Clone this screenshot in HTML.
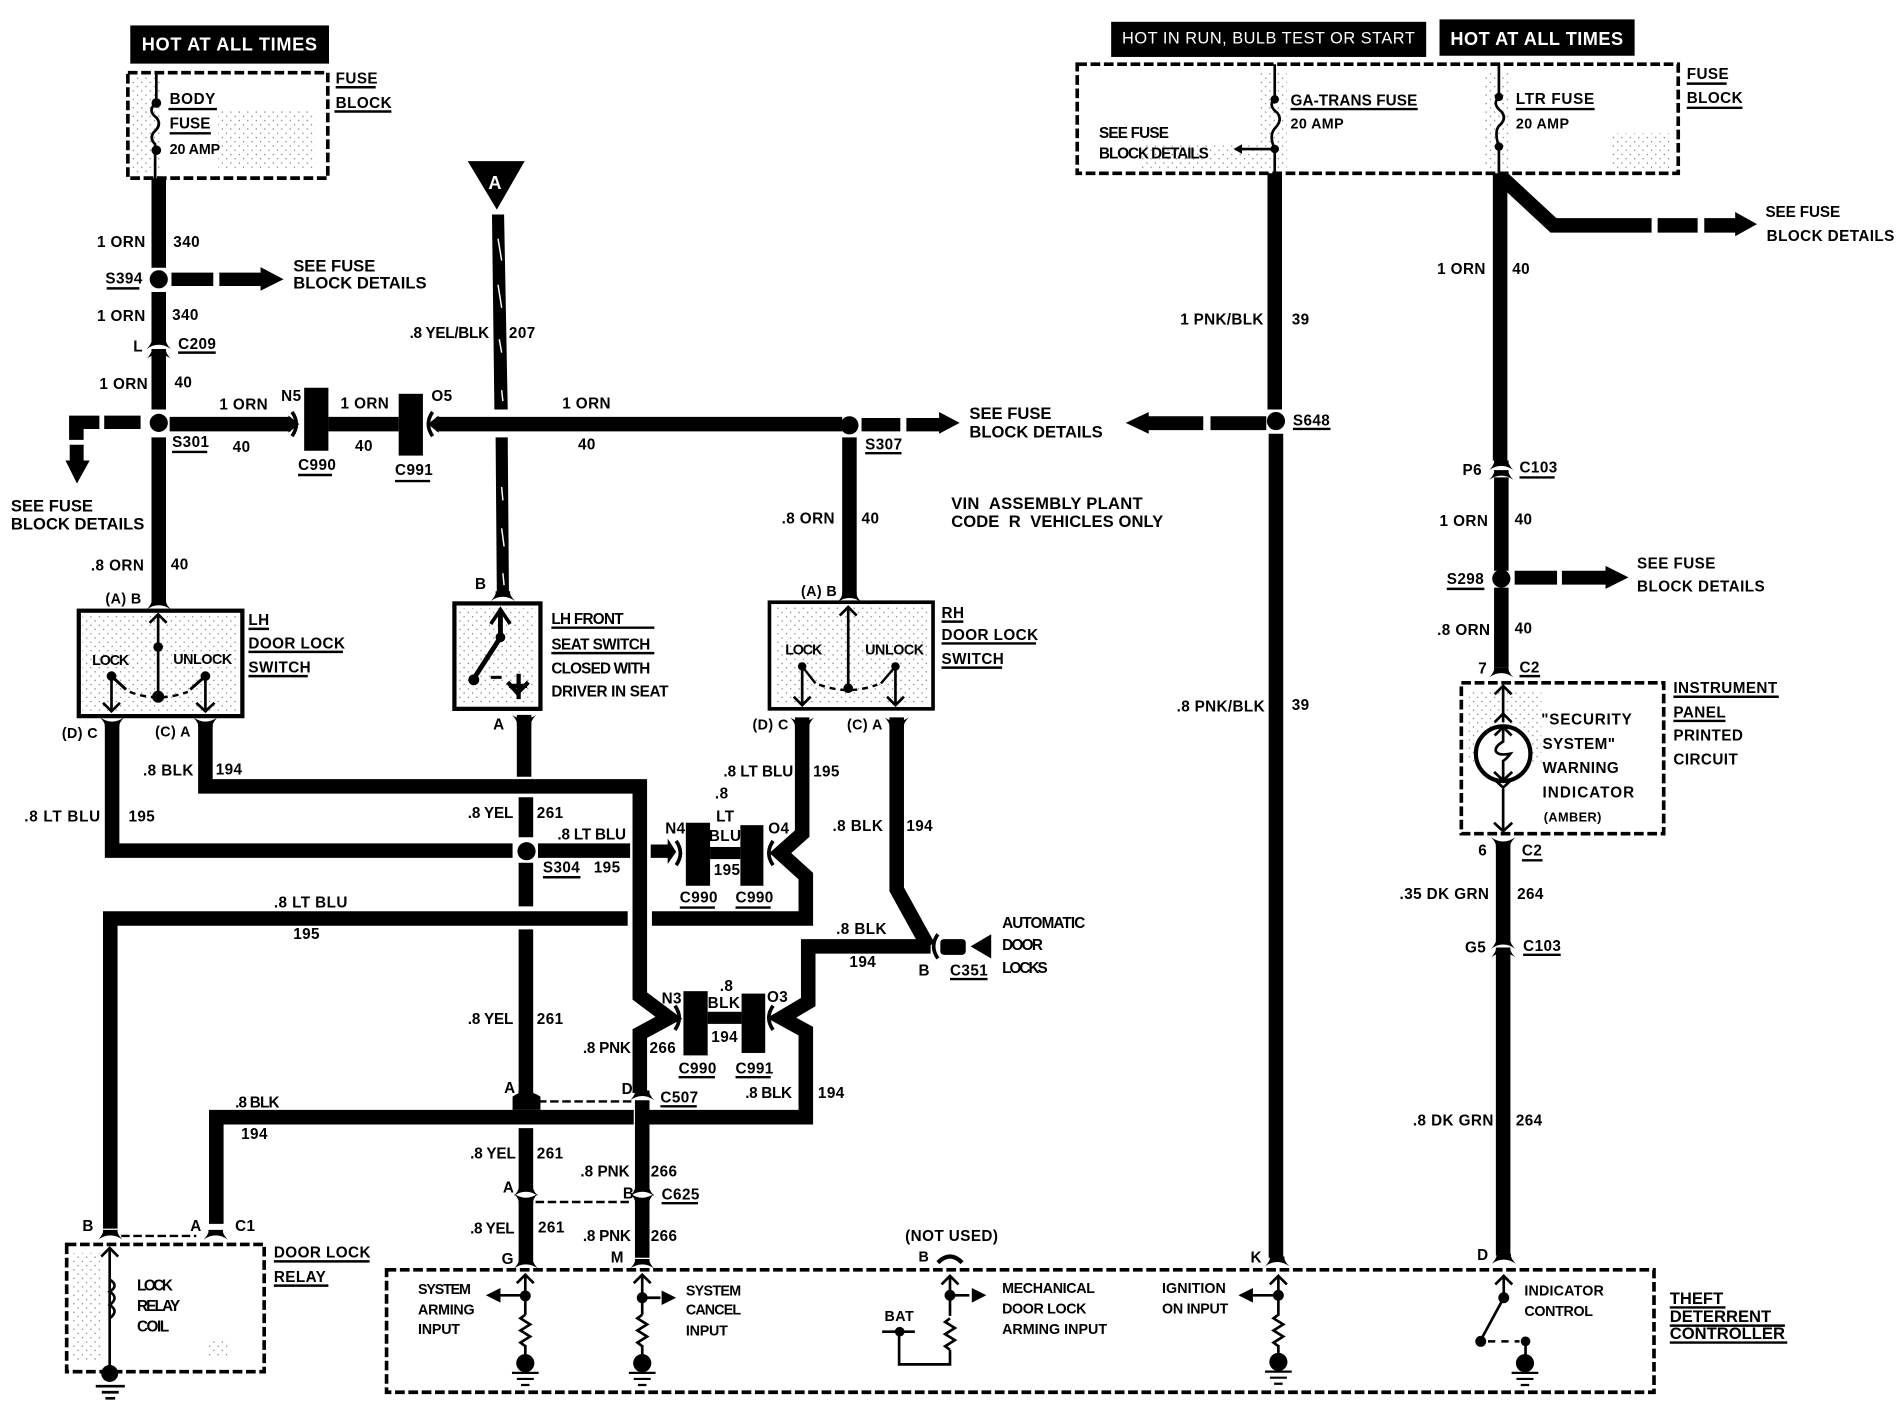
<!DOCTYPE html>
<html><head><meta charset="utf-8"><style>
html,body{margin:0;padding:0;background:#fff}
svg{display:block}
text{font-family:"Liberation Sans",sans-serif;font-weight:700;font-size:12.6px;letter-spacing:.35px;fill:#000;white-space:pre}
.s{font-size:11.8px}.b{font-size:13.7px;letter-spacing:0}.w{fill:#fff;font-size:15px;letter-spacing:.4px}
.r{font-weight:400}
.t{fill:none;stroke:#000;stroke-width:12;stroke-linejoin:miter}
.u{fill:none;stroke:#000;stroke-width:2}
.d{fill:none;stroke:#000;stroke-width:3;stroke-dasharray:8 3}
.l{fill:none;stroke:#000;stroke-width:2.2}
</style></head><body>
<svg xmlns="http://www.w3.org/2000/svg" width="1900" height="1408" viewBox="0 0 1568 1162">
<defs>
<pattern id="p" width="7" height="7" patternUnits="userSpaceOnUse"><rect x="1" y="1" width="1" height="1" fill="#000"/><rect x="4.5" y="4.5" width="1" height="1" fill="#000"/></pattern>
<path id="cd" d="M-6 -4H6V-2Q7 1 10 4Q0 -3 -10 4Q-7 1 -6 -2Z"/>
<path id="cu" d="M-6 4H6V2Q7 -1 10 -4Q0 3 -10 -4Q-7 -1 -6 2Z"/>
<path id="ch" d="M-7 7L0 0L7 7" fill="none" stroke="#000" stroke-width="2.2"/>
<path id="rs" d="M0 0L-4 3L4 8L-4 13L4 18L-4 23L0 26" fill="none" stroke="#000" stroke-width="2.2"/>
<g id="gn"><circle cx="0" cy="0" r="7.5" fill="#000"/><path d="M-11 8H11M-7 13H7M-3.5 18H3.5" fill="none" stroke="#000" stroke-width="1.8"/></g>
<path id="cl" d="M-3 -10Q4 0 -3 10" fill="none" stroke="#000" stroke-width="3"/>
<path id="cr" d="M3 -10Q-4 0 3 10" fill="none" stroke="#000" stroke-width="3"/>
</defs>
<rect width="1568" height="1162" fill="#fff"/>

<!-- stipple -->
<g fill="url(#p)" opacity=".55">
<rect x="68" y="507" width="128" height="80"/><rect x="378" y="502" width="64" height="80"/><rect x="639" y="501" width="127" height="80"/>
<rect x="180" y="90" width="80" height="50"/><rect x="108" y="64" width="25" height="80"/>
<rect x="1040" y="60" width="22" height="80"/><rect x="1225" y="60" width="22" height="80"/><rect x="940" y="120" width="100" height="20"/><rect x="1330" y="110" width="50" height="30"/>
<rect x="1212" y="570" width="60" height="60"/><rect x="60" y="1034" width="25" height="90"/><rect x="170" y="1105" width="20" height="15"/>
</g>

<!-- top black boxes -->
<rect x="107.500" y="21" width="164" height="31.500" fill="#000"/><text class="w" x="117" y="41.500" textLength="145">HOT AT ALL TIMES</text>
<rect x="917" y="18" width="260" height="29" fill="#000"/><text class="w r" style="font-size:13.500px" x="926" y="36" textLength="242">HOT IN RUN, BULB TEST OR START</text>
<rect x="1188" y="16" width="161" height="30" fill="#000"/><text class="w" x="1197" y="37">HOT AT ALL TIMES</text>

<!-- boxes -->
<rect x="105.500" y="60" width="165" height="87" class="d"/>
<rect x="889" y="53" width="496" height="90" class="d"/>
<rect x="1206" y="563.500" width="167" height="124.500" class="d"/>
<rect x="55" y="1027" width="163" height="105" class="d"/>
<rect x="319" y="1048" width="1046" height="101" class="d"/>
<rect x="65" y="504" width="135" height="87" fill="none" stroke="#000" stroke-width="3.500"/>
<rect x="375" y="498" width="71" height="87" fill="none" stroke="#000" stroke-width="3.500"/>
<rect x="635" y="497" width="135" height="88" fill="none" stroke="#000" stroke-width="3"/>

<!-- main wires upper left -->
<path class="t" d="M131 147V221M131 241V282M131 290V338M131 361V497"/>
<circle cx="131" cy="230.500" r="7.500"/><circle cx="131" cy="349" r="7.500"/>
<use href="#cd" x="131" y="284"/><use href="#cd" x="131" y="292"/><use href="#cd" x="131" y="499"/>
<path d="M141.500 225H176V236H141.500ZM181 225H215V220.500L234 230.500L215 240V236H181Z"/>
<path d="M86 343H116V354H86ZM57 343H82V354H69V363H57ZM57.500 367H69V380H74L63.500 399L54 380H57.500Z"/>
<path class="t" d="M140 350H240M271 350H329M360 350H695"/>
<path d="M238 343L247 350L238 357Z"/><path d="M362 343L353 350L362 357Z"/>
<use href="#cl" x="244" y="350"/><use href="#cr" x="354" y="350"/>
<rect x="251" y="320" width="20" height="52"/><rect x="329" y="325" width="20" height="51"/>
<circle cx="701" cy="351" r="7.500"/>
<path d="M711 345H743V356H711ZM748 345H775V340L792 349L775 358V356H748Z"/>
<path class="t" d="M701 361V491"/><use href="#cd" x="701" y="493"/>

<!-- A wire -->
<path d="M386 133H433L410 173Z"/><text x="403" y="156" style="fill:#fff;font-size:15px">A</text>
<path d="M406 177L416 177L419 338L408 338Z"/><path d="M409 361L419 361L420 490L410 490Z"/>
<path d="M411 197L414 215M411 235L414 254M412 280L414 291M414 322L415 331M414 402L415 413M414 436L416 451M415 473L416 483" stroke="#fff" stroke-width="1.200" fill="none"/>
<use href="#cd" x="415" y="492"/>

<!-- LH switch -->
<g class="l"><path d="M130.500 507V575"/><path d="M92 558L104 569M169.500 558L157 569" stroke-width="2.500"/><path d="M92 558V587M169.500 558V587"/><path d="M107 571Q130 580 155 571" stroke-dasharray="5 4" stroke-width="2"/></g>
<use href="#ch" x="130.500" y="507"/><circle cx="130.500" cy="534" r="4"/><circle cx="130.500" cy="575" r="5"/><circle cx="92" cy="558" r="4"/><circle cx="169.500" cy="558" r="4"/>
<path class="l" d="M85 580L92 587L99 580M162 580L169.500 587L177 580"/>
<!-- RH switch -->
<g class="l"><path d="M700 501V568"/><path d="M662 550L673 564M739 550L727 564" stroke-width="2"/><path d="M662 550V582M739 550V582"/><path d="M676 565Q700 574 724 565" stroke-dasharray="5 4" stroke-width="2"/></g>
<use href="#ch" x="700" y="501"/><circle cx="700" cy="568" r="4"/><circle cx="662" cy="550" r="3.500"/><circle cx="739" cy="550" r="3.500"/>
<path class="l" d="M655 575L662 582L669 575M732 575L739 582L746 575"/>
<!-- seat switch -->
<path d="M413 505V526L391 560" fill="none" stroke="#000" stroke-width="4"/><path d="M405 515L413 503L421 515" fill="none" stroke="#000" stroke-width="3"/>
<circle cx="413" cy="526" r="4"/><circle cx="391" cy="561" r="4.500"/><path d="M405 559H414" stroke="#000" stroke-width="2.500"/>
<path d="M419 563L427 572L436 563M428 556V577M420 566H435" fill="none" stroke="#000" stroke-width="3.500"/>

<!-- lower left wires -->
<path class="t" d="M92.500 597V702H423"/><use href="#cu" x="92.500" y="596"/>
<path class="t" d="M169.500 597V649H528V822L552 840L528 853V902"/><use href="#cu" x="169.500" y="596"/>
<path class="t" d="M444 702H520"/><path d="M537 697H551V692L558 703L551 713V708H537Z"/>
<path class="t" d="M432.500 590V641"/><use href="#cu" x="432.500" y="594"/>
<path class="t" d="M434 658V691M434 712V748M434 767V902M434 931V980M434 991V1040"/>
<circle cx="434.500" cy="702.500" r="7.500"/>
<path class="t" d="M518 758H91V1014"/>
<path class="t" d="M662 592V688L644 704L665 723V758H538"/><use href="#cu" x="662" y="596"/>
<rect x="566" y="679" width="20" height="52"/><rect x="611" y="681" width="19" height="50"/><rect x="586" y="699" width="25" height="10"/>
<use href="#cl" x="561" y="704"/><use href="#cr" x="635" y="704"/>
<path class="t" d="M740 592V734L766 781"/><use href="#cu" x="740" y="596"/>
<path class="t" d="M768 781H667V827L645 840L665 851V922H536"/>
<rect x="564" y="818" width="20" height="53"/><rect x="612" y="820" width="19.500" height="49"/><rect x="584" y="835" width="28" height="10"/>
<use href="#cl" x="560" y="840"/><use href="#cr" x="635" y="840"/>
<use href="#cr" x="771" y="781"/><rect x="776" y="775" width="21" height="13" rx="3"/><path d="M801 781L818 771V791Z"/>
<path class="t" d="M523 922H178.500V1010"/>
<path d="M423 916H446V905Q434 897 423 905Z"/>
<path class="t" d="M530 908V980M530 991V1038"/>
<use href="#cd" x="530" y="904"/><use href="#cd" x="434" y="904"/><use href="#cd" x="434" y="983"/><use href="#cu" x="434" y="989"/><use href="#cd" x="530" y="983"/><use href="#cu" x="530" y="989"/>
<use href="#cd" x="434" y="1043"/><use href="#cd" x="530" y="1043"/>
<use href="#cd" x="91" y="1019"/><use href="#cd" x="178" y="1019"/>
<path d="M444 909H521M442 992H521M100 1020H162" fill="none" stroke="#000" stroke-width="2" stroke-dasharray="7 3"/>

<!-- relay internals -->
<path class="l" d="M90.500 1030V1133"/><use href="#ch" x="90.500" y="1030"/>
<path class="l" d="M90.500 1056q8 5 0 10q8 5 0 11q8 5 0 11"/><circle cx="90.500" cy="1133.500" r="7"/>
<path class="l" d="M79 1144H103M84 1149H98M87 1154H95"/>

<!-- controller internals -->
<g class="l">
<path d="M433.500 1053V1085M433.500 1110V1120M433.500 1069H410"/><path d="M530 1053V1085M530 1110V1120M530 1071H545"/>
<path d="M784 1054V1086M784 1114V1126H742V1099M728 1099H755M784 1069H800"/>
<path d="M1055 1054V1086M1055 1110V1118M1055 1069H1034"/>
<path d="M1241 1053V1071L1222 1106"/><path d="M1259 1107V1120"/>
</g>
<use href="#ch" x="433.500" y="1052"/><use href="#ch" x="530" y="1052"/><use href="#ch" x="784" y="1053"/><use href="#ch" x="1055" y="1053"/><use href="#ch" x="1241" y="1053"/>
<circle cx="433.500" cy="1069.500" r="4.500"/><circle cx="530" cy="1071" r="4.500"/><circle cx="784" cy="1069" r="4.500"/><circle cx="1055" cy="1069" r="4.500"/><circle cx="1241" cy="1071" r="4.500"/><circle cx="742.500" cy="1099" r="4"/><circle cx="1222" cy="1107" r="4.500"/><circle cx="1259" cy="1107" r="4"/>
<path d="M401 1069L413 1063V1075ZM558 1071L546 1065V1077ZM814 1069L802 1063V1075ZM1022 1069L1034 1063V1075Z"/>
<use href="#rs" x="433.500" y="1085"/><use href="#rs" x="530" y="1085"/><use href="#rs" x="784" y="1088"/><use href="#rs" x="1055" y="1085"/>
<use href="#gn" x="433.500" y="1125"/><use href="#gn" x="530" y="1125"/><use href="#gn" x="1055" y="1124"/><use href="#gn" x="1258.500" y="1125"/>
<path d="M1228 1107H1254" fill="none" stroke="#000" stroke-width="2" stroke-dasharray="6 5"/>
<path d="M774 1042Q784 1032 794 1042" fill="none" stroke="#000" stroke-width="3.500"/>
<use href="#cd" x="1054" y="1041"/><use href="#cd" x="1241" y="1039"/>

<!-- right wires -->
<path class="t" d="M1052 143V338M1053 358V1038"/><circle cx="1053" cy="347.500" r="7.500"/>
<path d="M999 343.500H1045V355H999ZM948 343.500H993V355H948V358L929 349L948 340Z"/>
<path class="t" d="M1238 143V380M1239 394V471M1239 485V551"/><circle cx="1239" cy="477.500" r="7.500"/>
<use href="#cd" x="1239" y="384"/><use href="#cd" x="1239" y="392"/><use href="#cd" x="1239" y="555"/>
<path class="t" d="M1240 147L1282 186H1363"/><path d="M1368 180H1401V192H1368ZM1406.500 180H1432V175L1450 185L1432 195V192H1406.500Z"/>
<path d="M1250 471H1285V482.500H1250ZM1289 471H1325V467L1344 476.500L1325 486V482.500H1289Z"/>
<path class="t" d="M1240.500 696V776M1240.500 784V1036"/>
<use href="#cu" x="1240.500" y="695"/><use href="#cd" x="1240.500" y="779"/><use href="#cd" x="1240.500" y="786"/>

<!-- fuses -->
<g class="l"><path d="M129 60V85q-8 6 0 12q5 6 -2 12q-4 5 1 10V147"/><path d="M1052 53V81q-6 6 2 12q5 6 -2 13q-5 6 0 17V143M1052 123H1022"/><path d="M1237 53V80q-6 6 2 12q5 6 -2 12q-4 5 0 17V143"/></g>
<circle cx="129" cy="85" r="4"/><circle cx="129" cy="124" r="4"/><circle cx="1052" cy="82" r="3.500"/><circle cx="1052" cy="123" r="3.500"/><circle cx="1237" cy="80" r="3.500"/><circle cx="1237" cy="121" r="3.500"/>
<path d="M1018 123L1025 119V127Z"/>

<!-- bulb -->
<circle cx="1240.500" cy="622" r="22.500" fill="#fff" stroke="#000" stroke-width="3.500"/>
<g class="l"><path d="M1240.500 567V596M1240.500 651V686"/><path d="M1240.500 600V612q-7 4 -6 8q2 4 12 2q-3 4 -6 6V644"/></g>
<use href="#ch" x="1240.500" y="566"/><use href="#ch" x="1240.500" y="589"/><use href="#ch" x="1240.500" y="600"/>
<path class="l" d="M1233 637L1240.500 644L1248 637M1233 643L1240.500 650L1248 643M1233 679L1240.500 686L1248 679"/>

<!-- underlines -->
<path class="u" d="M277 72H310M276 92H323M139 90H179M140 110H174M88 238H115M147 291H178M142 373H171M246 392H274M326 397H355M205 519H222M205 538H283M205 558H254M455 518H540M455 539H540M448 724H479M714 374H744M777 513H795M777 531H855M777 551H827M545 913H575M546 993H576M561 749H590M607 749H636M560 889H590M607 889H636M784 808H815M226 1041H305M226 1061H271M1065 90H1170M1251 90H1316M1392 69H1425M1392 89H1438M1067 354H1098M1254 394H1283M1194 486H1225M1254 558H1271M1381 575H1468M1381 595H1424M1256 710H1273M1257 788H1288M1378 1079H1424M1378 1094H1473M1378 1108H1475"/>

<!-- labels left -->
<text x="277" y="69">FUSE</text><text x="277" y="89">BLOCK</text><text x="140" y="86" textLength="38">BODY</text><text x="140" y="106" textLength="34">FUSE</text><text class="s" x="140" y="127" textLength="42">20 AMP</text>
<text x="80" y="204">1 ORN</text><text x="143" y="204">340</text><text x="87" y="234">S394</text><text class="b" x="242" y="224">SEE FUSE</text><text class="b" x="242" y="238">BLOCK DETAILS</text>
<text x="80" y="265">1 ORN</text><text x="142" y="264">340</text><text x="110" y="290">L</text><text x="147" y="288">C209</text><text x="82" y="321">1 ORN</text><text x="144" y="320">40</text>
<text x="181" y="338">1 ORN</text><text x="232" y="331">N5</text><text x="281" y="337">1 ORN</text><text x="356" y="331">O5</text><text x="464" y="337">1 ORN</text>
<text x="142" y="369">S301</text><text x="192" y="373">40</text><text x="293" y="372">40</text><text x="477" y="371">40</text><text x="246" y="388">C990</text><text x="326" y="392">C991</text>
<text class="b" x="9" y="422">SEE FUSE</text><text class="b" x="9" y="437">BLOCK DETAILS</text><text x="75" y="471">.8 ORN</text><text x="141" y="470">40</text><text class="s" x="87" y="498">(A) B</text>
<text x="338" y="279" textLength="66">.8 YEL/BLK</text><text x="420" y="279">207</text>
<text x="205" y="516">LH</text><text x="205" y="535">DOOR LOCK</text><text x="205" y="555">SWITCH</text><text class="s" x="76" y="549" textLength="31">LOCK</text><text class="s" x="143" y="548" textLength="49">UNLOCK</text>
<text x="392" y="486">B</text><text x="455" y="515" textLength="60">LH FRONT</text><text x="455" y="536" textLength="82">SEAT SWITCH</text><text x="455" y="556" textLength="82">CLOSED WITH</text><text x="455" y="575" textLength="97">DRIVER IN SEAT</text>
<text class="s" x="51" y="609">(D) C</text><text class="s" x="128" y="608">(C) A</text><text x="407" y="602">A</text>
<text x="118" y="640">.8 BLK</text><text x="178" y="639">194</text><text x="20" y="678" textLength="63">.8 LT BLU</text><text x="106" y="678">195</text>
<text x="386" y="675" textLength="38">.8 YEL</text><text x="443" y="675">261</text><text x="460" y="693" textLength="57">.8 LT BLU</text><text x="448" y="720">S304</text><text x="490" y="720">195</text>
<text x="226" y="749" textLength="61">.8 LT BLU</text><text x="242" y="775">195</text>
<text x="386" y="845" textLength="38">.8 YEL</text><text x="443" y="845">261</text><text x="481" y="869" textLength="40">.8 PNK</text><text x="536" y="869">266</text><text x="416" y="902">A</text><text x="513" y="903">D</text><text x="545" y="910">C507</text>
<text x="194" y="914" textLength="37">.8 BLK</text><text x="199" y="940">194</text>
<text x="388" y="956" textLength="38">.8 YEL</text><text x="443" y="956">261</text><text x="479" y="971" textLength="41">.8 PNK</text><text x="537" y="971">266</text><text x="415" y="984">A</text><text x="514" y="989">B</text><text x="546" y="990">C625</text>
<text x="388" y="1018" textLength="37">.8 YEL</text><text x="444" y="1017">261</text><text x="481" y="1024" textLength="40">.8 PNK</text><text x="537" y="1024">266</text><text x="414" y="1043">G</text><text x="504" y="1042">M</text>
<text x="68" y="1016">B</text><text x="157" y="1016">A</text><text x="194" y="1016">C1</text><text x="226" y="1038">DOOR LOCK</text><text x="226" y="1058">RELAY</text>
<text x="113" y="1065" textLength="30">LOCK</text><text x="113" y="1082" textLength="36">RELAY</text><text x="113" y="1099" textLength="27">COIL</text>
<text class="s" x="345" y="1068" textLength="44">SYSTEM</text><text class="s" x="345" y="1085" textLength="47">ARMING</text><text class="s" x="345" y="1101" textLength="35">INPUT</text>
<text class="s" x="566" y="1069" textLength="46">SYSTEM</text><text class="s" x="566" y="1085" textLength="46">CANCEL</text><text class="s" x="566" y="1102" textLength="35">INPUT</text>
<text x="747" y="1024">(NOT USED)</text><text class="s" x="758" y="1041">B</text><text class="s" x="730" y="1090">BAT</text>
<text class="s" x="827" y="1067" textLength="77">MECHANICAL</text><text class="s" x="827" y="1084" textLength="70">DOOR LOCK</text><text class="s" x="827" y="1101" textLength="87">ARMING INPUT</text>
<text class="s" x="959" y="1067" textLength="53">IGNITION</text><text class="s" x="959" y="1084" textLength="55">ON INPUT</text>
<text class="s" x="1258" y="1069" textLength="66">INDICATOR</text><text class="s" x="1258" y="1086" textLength="57">CONTROL</text>
<text class="b" x="1378" y="1076">THEFT</text><text class="b" x="1378" y="1091">DETERRENT</text><text class="b" x="1378" y="1105">CONTROLLER</text>

<!-- labels center -->
<text x="597" y="641" textLength="58">.8 LT BLU</text><text x="671" y="641">195</text><text x="590" y="659">.8</text><text x="591" y="678">LT</text><text x="585" y="694">BLU</text><text x="549" y="688">N4</text><text x="634" y="688">O4</text><text x="589" y="722">195</text><text x="561" y="745">C990</text><text x="607" y="745">C990</text>
<text x="687" y="686">.8 BLK</text><text x="748" y="686">194</text><text class="s" x="621" y="602">(D) C</text><text class="s" x="699" y="602">(C) A</text>
<text x="690" y="771">.8 BLK</text><text x="701" y="798">194</text><text x="758" y="805">B</text><text x="784" y="805">C351</text><text x="827" y="766" textLength="69">AUTOMATIC</text><text x="827" y="784" textLength="34">DOOR</text><text x="827" y="803" textLength="38">LOCKS</text>
<text x="546" y="828">N3</text><text x="594" y="818">.8</text><text x="584" y="832">BLK</text><text x="633" y="827">O3</text><text x="587" y="860">194</text><text x="560" y="886">C990</text><text x="607" y="886">C991</text><text x="615" y="906" textLength="39">.8 BLK</text><text x="675" y="906">194</text>
<text class="b" x="785" y="420" textLength="158">VIN  ASSEMBLY PLANT</text><text class="b" x="785" y="435" textLength="175">CODE  R  VEHICLES ONLY</text>
<text class="b" x="800" y="346">SEE FUSE</text><text class="b" x="800" y="361">BLOCK DETAILS</text>
<text x="714" y="371">S307</text><text x="645" y="432">.8 ORN</text><text x="711" y="432">40</text><text class="s" x="661" y="492">(A) B</text>
<text x="777" y="510">RH</text><text x="777" y="528">DOOR LOCK</text><text x="777" y="548">SWITCH</text><text class="s" x="648" y="540" textLength="31">LOCK</text><text class="s" x="714" y="540" textLength="49">UNLOCK</text>

<!-- labels right -->
<text x="974" y="268" textLength="69">1 PNK/BLK</text><text x="1066" y="268">39</text><text x="1067" y="351">S648</text><text x="971" y="587" textLength="73">.8 PNK/BLK</text><text x="1066" y="586">39</text>
<text x="1065" y="87" textLength="105">GA-TRANS FUSE</text><text class="s" x="1065" y="106">20 AMP</text><text x="1251" y="86" textLength="65">LTR FUSE</text><text class="s" x="1251" y="106">20 AMP</text><text x="907" y="114" textLength="58">SEE FUSE</text><text x="907" y="131" textLength="91">BLOCK DETAILS</text><text x="1392" y="65">FUSE</text><text x="1392" y="85">BLOCK</text>
<text x="1457" y="179" textLength="62">SEE FUSE</text><text x="1458" y="199">BLOCK DETAILS</text><text x="1186" y="226">1 ORN</text><text x="1248" y="226">40</text><text x="1207" y="392">P6</text><text x="1254" y="390">C103</text><text x="1188" y="434">1 ORN</text><text x="1250" y="433">40</text><text x="1194" y="482">S298</text><text x="1351" y="469">SEE FUSE</text><text x="1351" y="488">BLOCK DETAILS</text><text x="1186" y="524">.8 ORN</text><text x="1250" y="523">40</text><text x="1220" y="556">7</text><text x="1254" y="555">C2</text>
<text x="1381" y="572">INSTRUMENT</text><text x="1381" y="592">PANEL</text><text x="1381" y="611">PRINTED</text><text x="1381" y="631">CIRCUIT</text>
<text x="1272" y="598" textLength="75">"SECURITY</text><text x="1273" y="618">SYSTEM"</text><text x="1273" y="638">WARNING</text><text x="1273" y="658" textLength="76">INDICATOR</text><text class="s" style="font-size:10.500px" x="1274" y="678">(AMBER)</text>
<text x="1220" y="706">6</text><text x="1256" y="706">C2</text><text x="1155" y="742">.35 DK GRN</text><text x="1252" y="742">264</text><text x="1209" y="786">G5</text><text x="1257" y="785">C103</text><text x="1166" y="929">.8 DK GRN</text><text x="1251" y="929">264</text><text x="1032" y="1042">K</text><text x="1219" y="1040">D</text>
</svg>
</body></html>
